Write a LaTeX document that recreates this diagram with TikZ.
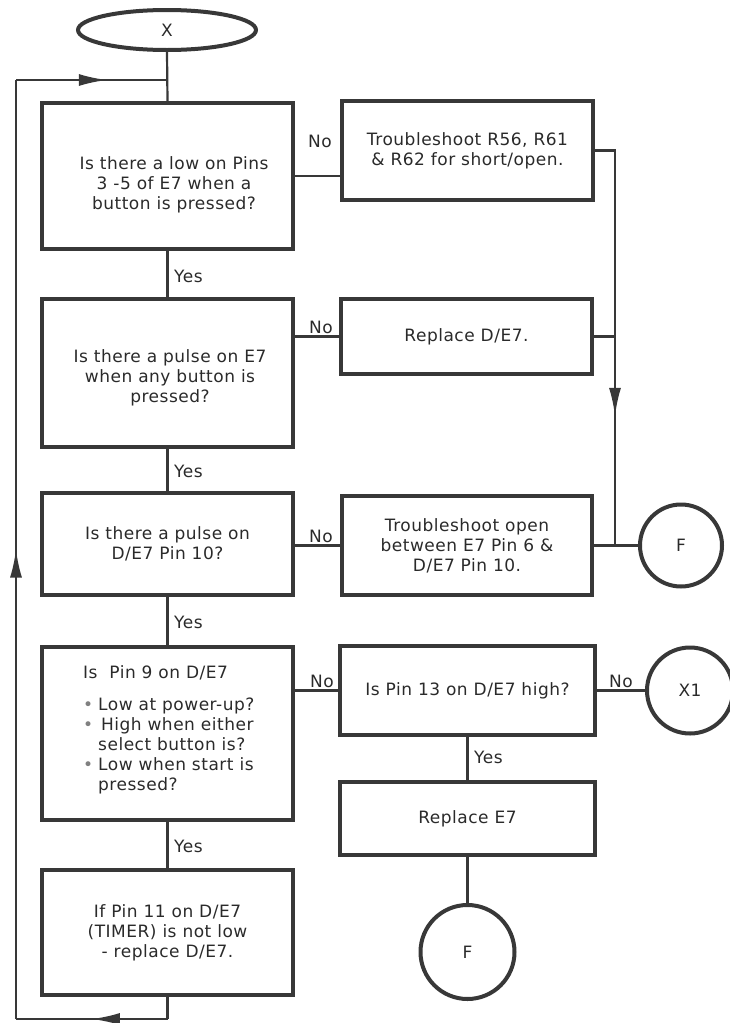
\documentclass[tikz,border=0pt]{standalone}
\usepackage{fontspec}
\setmainfont{DejaVu Sans}[LetterSpace=3]
\usetikzlibrary{arrows.meta,decorations.markings,shapes.geometric}
\definecolor{lin}{HTML}{383838}
\definecolor{txt}{HTML}{2A2A2A}
\begin{document}
\begin{tikzpicture}[x=1pt,y=-1pt,
  every node/.style={text=txt},
  body/.style={font=\fontsize{17}{20}\selectfont},
  box/.style={draw=lin, line width=4pt, align=center, inner sep=0pt, body},
  boxtext/.style={body, align=center, inner sep=0pt},
  term/.style={draw=lin, line width=4pt, circle, inner sep=0pt, body},
  conn/.style={draw=lin, line width=2.2pt},
  lbl/.style={font=\fontsize{17}{18}\selectfont, inner sep=1pt},
  midarrow/.style={postaction={decorate}, decoration={markings,
     mark=at position #1 with {\arrow{Latex[length=28pt,width=12pt]}}}}
]
\useasboundingbox (0,0) rectangle (730,1023);

% terminal
\node[draw=lin, line width=4pt, ellipse, minimum width=178pt, minimum height=40pt, inner sep=0pt, body] (X) at (167,30) {X};

% left column
\node[box, minimum width=251pt, minimum height=146pt] (q1) at (167.5,176) {};
\node[boxtext] (q1t) at (174,185)
  {Is there a low on Pins\\3 -5 of E7 when a\\button is pressed?};
\node[box, minimum width=251pt, minimum height=148pt] (q2) at (167.5,373) {};
\node[boxtext] (q2t) at (170,378)
  {Is there a pulse on E7\\when any button is\\pressed?};
\node[box, minimum width=251pt, minimum height=102pt] (q3) at (167.5,544)
  {Is there a pulse on\\D/E7 Pin 10?};
\node[box, minimum width=251pt, minimum height=173pt] (q4) at (167.5,733.5) {};
\node[body, align=left, anchor=north west, inner sep=0pt] (q4t) at (83,665)
  {Is~ Pin 9 on D/E7\\[12pt]
   \makebox[15pt][l]{\textcolor{gray}{•}}Low at power-up?\\
   \makebox[15pt][l]{\textcolor{gray}{•}}\,High when either\\
   \hspace*{15pt}select button is?\\
   \makebox[15pt][l]{\textcolor{gray}{•}}Low when start is\\
   \hspace*{15pt}pressed?};
\node[box, minimum width=251pt, minimum height=125pt] (q5) at (167.5,932.5)
  {If Pin 11 on D/E7\\(TIMER) is not low\\- replace D/E7.};

% right column
\node[box, minimum width=251pt, minimum height=99pt] (r1) at (467.5,150.5)
  {Troubleshoot R56, R61\\\& R62 for short/open.};
\node[box, minimum width=251pt, minimum height=75pt] (r2) at (466.5,336.5)
  {Replace D/E7.};
\node[box, minimum width=250pt, minimum height=99pt] (r3) at (467,545.5)
  {Troubleshoot open\\between E7 Pin 6 \&\\D/E7 Pin 10.};
\node[box, minimum width=255pt, minimum height=89pt] (r4) at (467.5,690.5)
  {Is Pin 13 on D/E7 high?};
\node[box, minimum width=255pt, minimum height=73pt] (r5) at (467.5,818.5)
  {Replace E7};

% connectors (circles)
\node[term, minimum size=82pt] (f1) at (681,545.5) {F};
\node[term, minimum size=86pt] (x1) at (690,690.5) {X1};
\node[term, minimum size=94pt] (f2) at (467.5,952) {F};

% coordinates
\coordinate (c1) at (167.5,1019);
\coordinate (c2) at (16,1019);
\coordinate (c3) at (16,80);
\coordinate (c4) at (167.5,80);
\coordinate (c5) at (615,150.5);
\coordinate (c6) at (615,336.5);
\coordinate (c7) at (615,545.5);

% main flow
\draw[conn] (X.south) -- (q1.north);
\draw[conn] (q1.south) -- (q2.north);
\draw[conn] (q2.south) -- (q3.north);
\draw[conn] (q3.south) -- (q4.north);
\draw[conn] (q4.south) -- (q5.north);
\draw[conn] (q5.south) -- (c1);
\draw[conn, midarrow=0.5] (c1) -- (c2);
\draw[conn, midarrow=0.5] (c2) -- (c3);
\draw[conn, midarrow=0.6] (c3) -- (c4);

\draw[conn] (q1.east) -- (q1.east -| r1.west);
\draw[conn] (q2.east |- r2.west) -- (r2.west);
\draw[conn] (q3.east |- r3.west) -- (r3.west);
\draw[conn] (q4.east |- r4.west) -- (r4.west);
\draw[conn] (r4.east) -- (x1.west);
\draw[conn] (r4.south) -- (r5.north);
\draw[conn] (r5.south) -- (f2.north);

\draw[conn, line join=miter] (r1.east) -- (c5) -- (c6);
\draw[conn, midarrow=0.38] (c6) -- (c7);
\draw[conn] (r2.east) -- (c6);
\draw[conn] (r3.east) -- (f1.west);

% labels
\node[lbl, anchor=south] (n1) at (320,149) {No};
\node[lbl, anchor=south] (n2) at (321,335) {No};
\node[lbl, anchor=south] (n3) at (321,544) {No};
\node[lbl, anchor=south] (n4) at (322,689) {No};
\node[lbl, anchor=south] (n5) at (621,689) {No};
\node[lbl, anchor=west] (y1) at (173,276) {Yes};
\node[lbl, anchor=west] (y2) at (173,471) {Yes};
\node[lbl, anchor=west] (y3) at (173,622) {Yes};
\node[lbl, anchor=west] (y4) at (173,846) {Yes};
\node[lbl, anchor=west] (y5) at (473,757) {Yes};
\end{tikzpicture}
\end{document}
